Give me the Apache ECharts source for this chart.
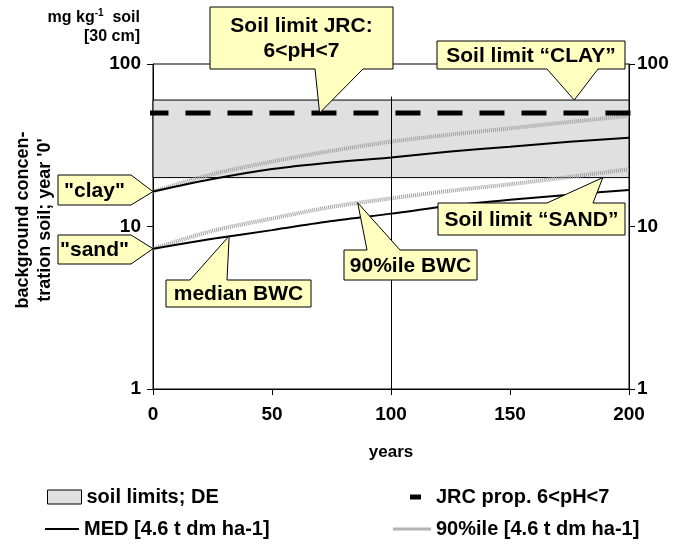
<!DOCTYPE html>
<html><head><meta charset="utf-8">
<script src="https://cdn.jsdelivr.net/npm/echarts@6/dist/echarts.min.js"></script>
<style>html,body{margin:0;padding:0;background:#fff}#c{width:678px;height:552px}</style>
</head><body><div id="c"></div>
<script>
// ---- data ----
const years   = [0, 25, 50, 75, 100, 125, 150, 175, 200];
const medClay = [16.4, 19.6, 22.6, 24.8, 26.6, 28.9, 31.0, 33.2, 35.2];
const medSand = [7.3, 8.4, 9.5, 10.8, 12.0, 13.4, 14.6, 15.7, 16.8];
const p90Clay = [16.4, 21.0, 25.1, 29.2, 33.3, 36.8, 40.2, 44.0, 47.9];
const p90Sand = [7.3, 9.4, 11.2, 13.2, 14.9, 16.6, 18.2, 20.2, 22.5];
const soilLimitsDE = [20, 60];      // lower ("SAND") and upper ("CLAY") limit
const jrcLimit = 50;                // JRC proposal 6<pH<7
const jrcYears = [-4, 205.5];       // extent of the JRC bar
const refYear = 100;                // vertical reference line
const refLineTop = 63;
const seriesNames = ['soil limits; DE', 'JRC prop. 6<pH<7', 'MED [4.6 t dm ha-1]', '90%ile [4.6 t dm ha-1]'];

const F = 'Arial, "Liberation Sans", sans-serif';
const pairs = ys => years.map((x, i) => [x, ys[i]]);
const bold = (size) => ({color: '#000', fontWeight: 'bold', fontSize: size, fontFamily: F});

const chart = echarts.init(document.getElementById('c'), null, {renderer: 'canvas'});

const yAxisBase = {
  type: 'log', logBase: 10, min: 1, max: 100,
  axisLine: {show: true, lineStyle: {color: '#000', width: 1}},
  axisTick: {show: true, length: 6, lineStyle: {color: '#000'}},
  splitLine: {show: false}, minorTick: {show: false},
};

const option = {
  animation: false,
  backgroundColor: '#fff',
  grid: {left: 153, right: 49, top: 64, bottom: 163, show: true, borderColor: '#000', borderWidth: 1, backgroundColor: 'transparent'},
  xAxis: {
    type: 'value', min: 0, max: 200, interval: 50,
    axisLine: {lineStyle: {color: '#000'}},
    axisTick: {length: 6, lineStyle: {color: '#000'}},
    axisLabel: Object.assign(bold(19), {margin: 16}),
    splitLine: {show: false},
    name: 'years', nameLocation: 'middle', nameGap: 55,
    nameTextStyle: bold(17)
  },
  yAxis: [
    Object.assign({}, yAxisBase, {position: 'left', axisLabel: Object.assign(bold(19), {margin: 12})}),
    Object.assign({}, yAxisBase, {position: 'right', axisLabel: Object.assign(bold(19), {margin: 8})})
  ],
  legend: [
    {data: [{name: seriesNames[0], icon: 'rect', itemStyle: {color: '#e0e0e0', borderColor: '#000', borderWidth: 1}}],
     left: 42, top: 482, itemWidth: 34, itemHeight: 14, selectedMode: false, textStyle: bold(20)},
    {data: [{name: seriesNames[1], icon: 'rect', itemStyle: {color: '#000'}}],
     left: 405, top: 482, itemWidth: 11, itemHeight: 5, itemGap: 0, selectedMode: false, textStyle: Object.assign(bold(20), {padding: [0, 0, 0, 10]})},
    {data: [{name: seriesNames[2], icon: 'rect', itemStyle: {color: '#000'}}],
     left: 40, top: 514, itemWidth: 34, itemHeight: 2, selectedMode: false, textStyle: bold(20)},
    {data: [{name: seriesNames[3], icon: 'rect', itemStyle: {color: '#b4b4b4'}}],
     left: 388, top: 514, itemWidth: 38, itemHeight: 3, selectedMode: false, textStyle: bold(20)}
  ],
  series: [
    {name: seriesNames[0], type: 'line', data: [], z: 1,
     itemStyle: {color: '#e0e0e0'},
     markArea: {silent: true, itemStyle: {color: '#e0e0e0', borderColor: '#000', borderWidth: 1},
       data: [[{yAxis: soilLimitsDE[0]}, {yAxis: soilLimitsDE[1]}]]}},
    {name: seriesNames[3], type: 'line', data: pairs(p90Clay), smooth: 0.3, symbol: 'none', z: 3,
     lineStyle: {color: '#a0a0a0', width: 4, type: [1, 1]}, itemStyle: {color: '#b4b4b4'},
     markLine: {silent: true, symbol: ['none', 'none'], label: {show: false},
       lineStyle: {color: '#000', width: 1, type: 'solid'},
       data: [[{coord: [refYear, 1]}, {coord: [refYear, refLineTop]}]]}},
    {name: seriesNames[3], type: 'line', data: pairs(p90Sand), smooth: 0.3, symbol: 'none', z: 3,
     lineStyle: {color: '#a0a0a0', width: 4, type: [1, 1]}, itemStyle: {color: '#b4b4b4'}},
    {name: seriesNames[2], type: 'line', data: pairs(medClay), smooth: 0.3, symbol: 'none', z: 4,
     lineStyle: {color: '#000', width: 2}, itemStyle: {color: '#000'}},
    {name: seriesNames[2], type: 'line', data: pairs(medSand), smooth: 0.3, symbol: 'none', z: 4,
     lineStyle: {color: '#000', width: 2}, itemStyle: {color: '#000'}},
    {name: seriesNames[1], type: 'line', data: jrcYears.map(x => [x, jrcLimit]), clip: false, symbol: 'none', z: 5,
     lineStyle: {color: '#000', width: 5, type: [25, 17]}, itemStyle: {color: '#000'}}
  ]
};
chart.setOption(option);

// ---- callouts (box layout in px, pointer tip anchored to data) ----
const callouts = [
  {text: 'Soil limit JRC:\n6<pH<7', box: [210, 7, 393, 69], side: 'bottom', base: [315, 363], anchor: [70, jrcLimit]},
  {text: 'Soil limit \u201CCLAY\u201D', box: [437, 41, 625, 69], side: 'bottom', base: [547, 598], anchor: [177, soilLimitsDE[1]]},
  {text: '"clay"', box: [58, 175, 131, 205], side: 'right', anchor: [0, medClay[0]]},
  {text: '"sand"', box: [58, 235, 131, 264], side: 'right', anchor: [0, medSand[0]]},
  {text: 'median BWC', box: [166, 280, 311, 307], side: 'top', base: [190, 227], anchor: [32, 8.75]},
  {text: '90%ile BWC', box: [344, 250, 477, 280], side: 'top', base: [367, 400], anchor: [86, 14.0]},
  {text: 'Soil limit \u201CSAND\u201D', box: [438, 203, 625, 235], side: 'top', base: [547, 593], anchor: [189, soilLimitsDE[0]]}
];

const graphics = [];
callouts.forEach(c => {
  const [x1, y1, x2, y2] = c.box;
  const tip = chart.convertToPixel({xAxisIndex: 0, yAxisIndex: 0}, c.anchor);
  let pts;
  if (c.side === 'bottom') pts = [[x1, y1], [x2, y1], [x2, y2], [c.base[1], y2], tip, [c.base[0], y2], [x1, y2]];
  else if (c.side === 'top') pts = [[x1, y1], [c.base[0], y1], tip, [c.base[1], y1], [x2, y1], [x2, y2], [x1, y2]];
  else pts = [[x1, y1], [x2, y1], tip, [x2, y2], [x1, y2]];
  graphics.push({type: 'polygon', z: 100, shape: {points: pts}, style: {fill: '#ffffc0', stroke: '#000', lineWidth: 1}});
  graphics.push({type: 'text', z: 101, x: (x1 + x2) / 2, y: (y1 + y2) / 2 + 1,
    style: {text: c.text, font: 'bold 21px ' + F, fill: '#000', align: 'center', verticalAlign: 'middle',
            textAlign: 'center', textVerticalAlign: 'middle', lineHeight: 25}});
});
// axis titles
graphics.push({type: 'text', z: 50, x: 140, y: 17,
  style: {text: '{a|mg kg}{s|-1}{a|  soil}', align: 'right', verticalAlign: 'middle', textAlign: 'right', textVerticalAlign: 'middle',
    rich: {a: {font: 'bold 16px ' + F, fill: '#000', verticalAlign: 'bottom'}, s: {font: 'bold 10px ' + F, fill: '#000', verticalAlign: 'top', padding: [0, 0, 8, 0]}}}});
graphics.push({type: 'text', z: 50, x: 140, y: 37,
  style: {text: '[30 cm]', font: 'bold 16px ' + F, fill: '#000', align: 'right', verticalAlign: 'middle', textAlign: 'right', textVerticalAlign: 'middle'}});
graphics.push({type: 'text', z: 50, x: 34, y: 220, rotation: Math.PI / 2,
  style: {text: "background concen-\ntration soil; year '0'", font: 'bold 18px ' + F, fill: '#000', lineHeight: 22,
    align: 'center', verticalAlign: 'middle', textAlign: 'center', textVerticalAlign: 'middle'}});
chart.setOption({graphic: graphics});
</script></body></html>
